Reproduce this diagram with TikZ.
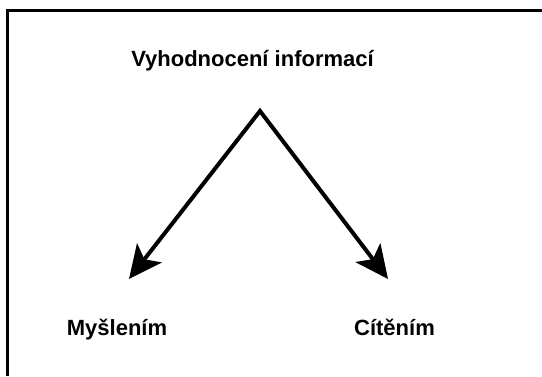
\documentclass[tikz,border=0pt]{standalone}
\usepackage{fontspec}
\setmainfont{Liberation Sans}
\usetikzlibrary{arrows.meta}
\tikzset{
    lbl/.style={font=\fontsize{22}{26}\selectfont\bfseries, inner sep=0pt, anchor=base},
    arr/.style={line width=4pt, miter limit=20, {Stealth[length=33pt,width=31pt,inset=8pt]}-{Stealth[length=33pt,width=31pt,inset=8pt]}}
}
\begin{document}
\begin{tikzpicture}[x=1pt,y=-1pt]
    \useasboundingbox (0,0) rectangle (542,376);
    %Frame
    \draw[line width=3pt] (542,10.5) -- (7.5,10.5) -- (7.5,376);
    %Labels
    \node[lbl] (title) at (252.5,66) {Vyhodnocení informací};
    \node[lbl] (mysl) at (117,335) {Myšlením};
    \node[lbl] (cit) at (394.5,335) {Cítěním};
    %Arrows
    \coordinate (apex) at (260,111);
    \coordinate (tipL) at (129,279);
    \coordinate (tipR) at (388,279);
    \draw[arr] (tipL) -- (apex) -- (tipR);
\end{tikzpicture}
\end{document}
